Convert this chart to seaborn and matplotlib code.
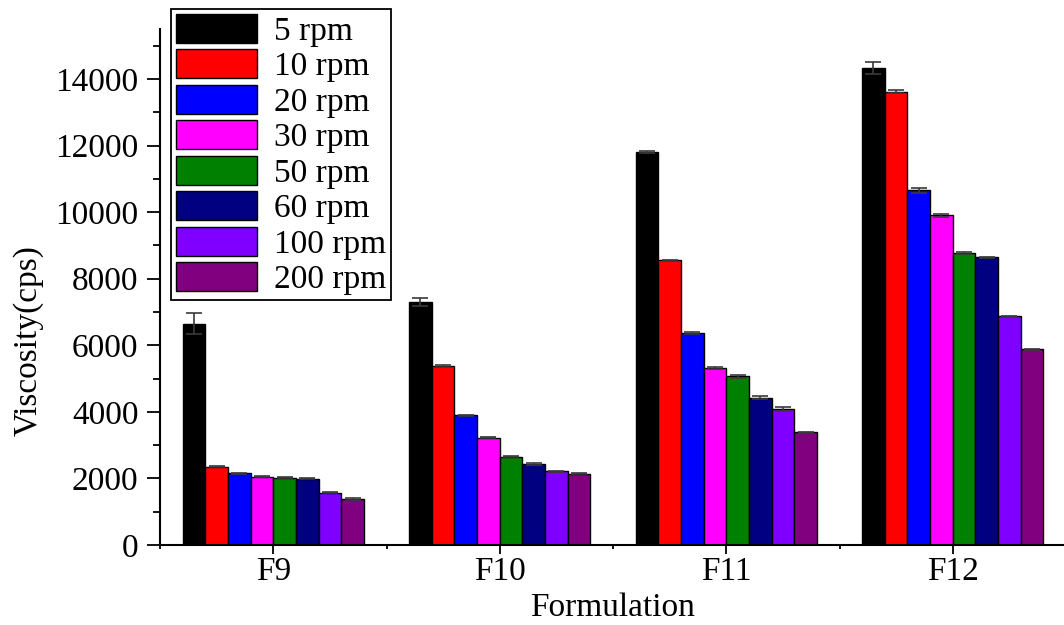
import matplotlib
matplotlib.use("Agg")
import matplotlib.pyplot as plt
from matplotlib.ticker import MultipleLocator
import seaborn as sns
import pandas as pd

formulations = ["F9", "F10", "F11", "F12"]
speeds = ["5 rpm", "10 rpm", "20 rpm", "30 rpm", "50 rpm", "60 rpm", "100 rpm", "200 rpm"]
colors = ["#000000", "#FF0000", "#0000FF", "#FF00FF", "#008000", "#000080", "#8000FF", "#800080"]

# viscosity (cps) per speed, in order F9, F10, F11, F12
v_5 = [6650, 7290, 11810, 14340]
v_10 = [2350, 5380, 8550, 13620]
v_20 = [2150, 3900, 6370, 10650]
v_30 = [2050, 3220, 5310, 9900]
v_50 = [2020, 2650, 5070, 8770]
v_60 = [1990, 2430, 4430, 8640]
v_100 = [1570, 2210, 4080, 6870]
v_200 = [1380, 2140, 3380, 5880]

e_5 = [320, 120, 30, 180]
e_10 = [20, 20, 20, 50]
e_20 = [20, 20, 20, 80]
e_30 = [20, 20, 30, 40]
e_50 = [20, 20, 50, 20]
e_60 = [20, 20, 40, 10]
e_100 = [20, 20, 60, 10]
e_200 = [20, 20, 20, 10]

values = [v_5, v_10, v_20, v_30, v_50, v_60, v_100, v_200]
errors = [e_5, e_10, e_20, e_30, e_50, e_60, e_100, e_200]

rows = []
for s, vals, errs in zip(speeds, values, errors):
    for f, v, e in zip(formulations, vals, errs):
        rows.append({"Formulation": f, "Speed": s, "Viscosity": v, "err": e})
df = pd.DataFrame(rows)

sns.set_theme(style="ticks")
plt.rcParams["font.family"] = ["Liberation Serif", "DejaVu Serif"]
plt.rcParams["font.size"] = 24
plt.rcParams["text.color"] = "black"
plt.rcParams["axes.labelcolor"] = "black"
plt.rcParams["xtick.color"] = "black"
plt.rcParams["ytick.color"] = "black"

FS = 24

fig = plt.figure(figsize=(10.64, 6.25), dpi=100)
ax = fig.add_axes([160 / 1064, 80 / 625, 906 / 1064, 516 / 625])

sns.barplot(data=df, x="Formulation", y="Viscosity", hue="Speed",
            order=formulations, hue_order=speeds, palette=colors,
            width=0.8, edgecolor="black", linewidth=1.0, errorbar=None,
            saturation=1, ax=ax)

for cont, errs in zip(ax.containers, errors):
    xs = [p.get_x() + p.get_width() / 2 for p in cont.patches]
    hs = [p.get_height() for p in cont.patches]
    ax.errorbar(xs, hs, yerr=errs, fmt="none", ecolor="#3a3a3a",
                elinewidth=1.2, capsize=6, capthick=1.2, zorder=5)

ax.set_xlim(-0.5, 3.5)
ax.set_ylim(0, 15500)
ax.yaxis.set_major_locator(MultipleLocator(2000))
ax.yaxis.set_minor_locator(MultipleLocator(1000))
ax.xaxis.set_minor_locator(MultipleLocator(0.5))
ax.tick_params(axis="y", which="major", length=9.4, width=1.3, labelsize=FS, pad=6)
ax.tick_params(axis="y", which="minor", length=5, width=1.3)
ax.tick_params(axis="x", which="major", length=6.5, width=1.3, labelsize=FS, pad=1.5)
ax.tick_params(axis="x", which="minor", length=3, width=1.3)
for s in ["top", "right"]:
    ax.spines[s].set_visible(False)
for s in ["left", "bottom"]:
    ax.spines[s].set_linewidth(1.5)
    ax.spines[s].set_color("black")

ax.set_xlabel("Formulation", fontsize=FS, labelpad=4.5)
ax.set_ylabel("Viscosity(cps)", fontsize=FS)
ax.yaxis.set_label_coords(-0.128, 0.397)

handles, labels = ax.get_legend_handles_labels()
leg = ax.legend(handles, labels, loc="upper left",
                bbox_to_anchor=(171 / 1064, 1 - 9 / 625),
                bbox_transform=fig.transFigure, borderaxespad=0,
                fontsize=FS, frameon=True, fancybox=False,
                edgecolor="black", framealpha=1,
                handlelength=2.43, handleheight=0.96, handletextpad=0.5,
                labelspacing=0.075, borderpad=0.15)
leg.get_frame().set_linewidth(1.3)

fig.savefig("out.png", dpi=100)
